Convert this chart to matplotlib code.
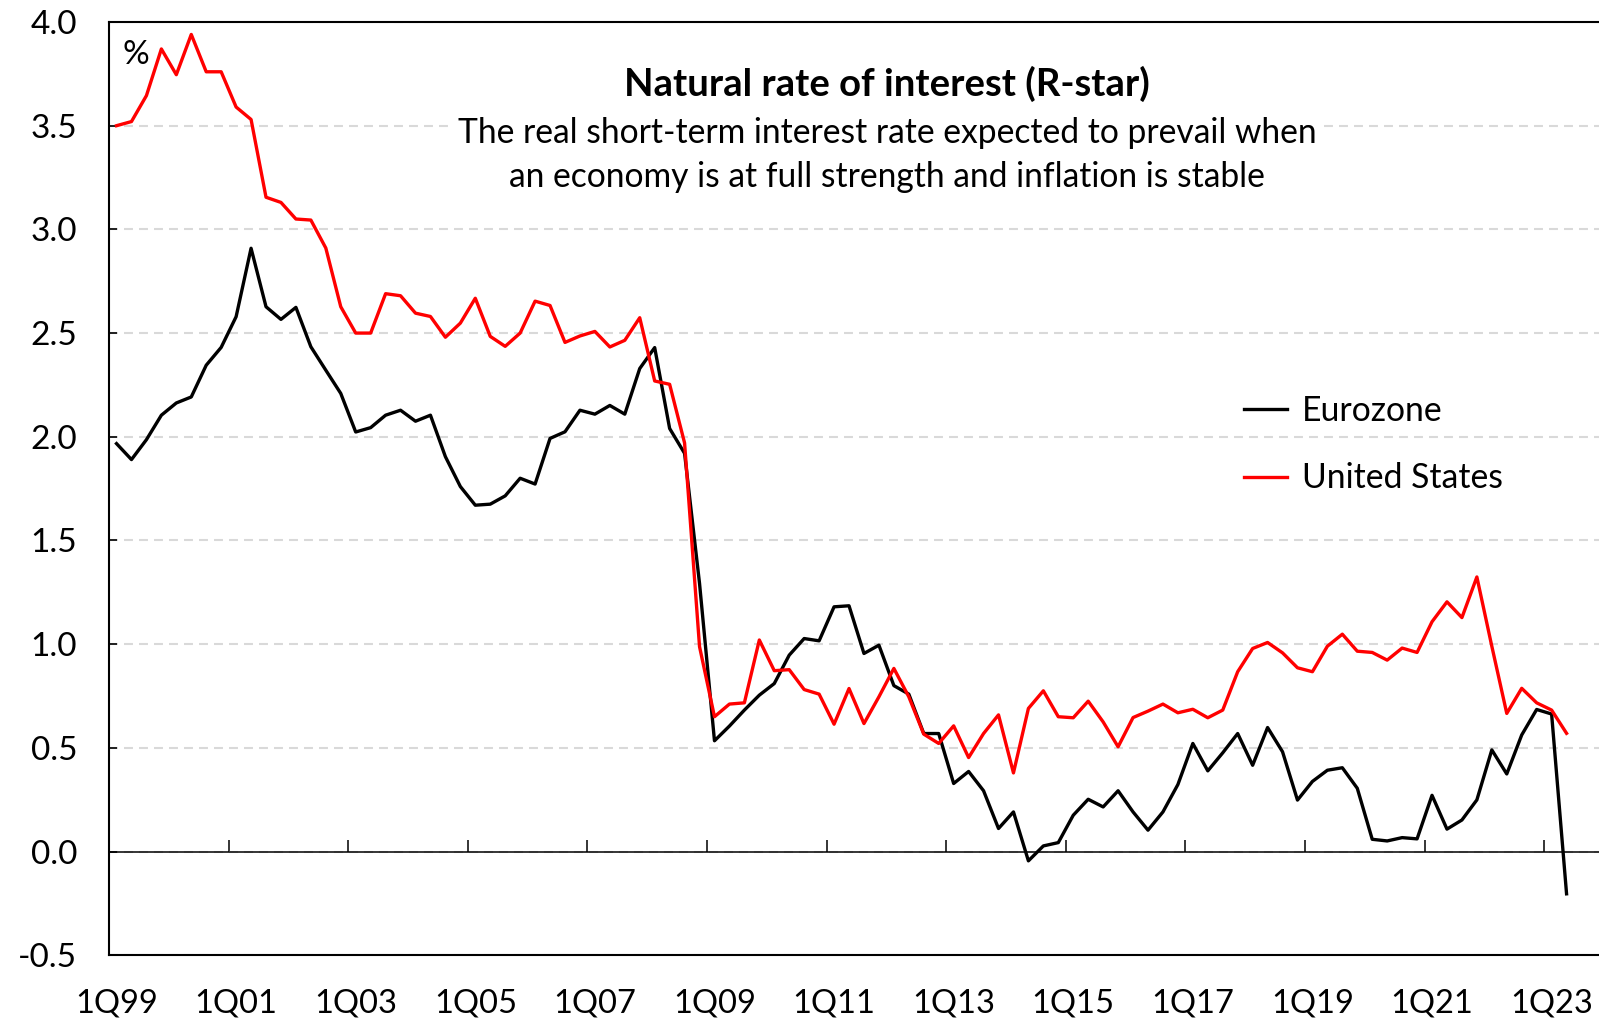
import numpy as np
import matplotlib
matplotlib.use("Agg")
import matplotlib.pyplot as plt
from matplotlib.patches import Rectangle

# quarterly R-star estimates, 1Q99 .. 2Q23
eurozone = [1.967, 1.89, 1.986, 2.104, 2.163, 2.192, 2.345, 2.431, 2.579, 2.909,
            2.627, 2.566, 2.624, 2.434, 2.321, 2.209, 2.023, 2.044, 2.104, 2.128,
            2.075, 2.104, 1.904, 1.76, 1.67, 1.675, 1.715, 1.80, 1.772, 1.992,
            2.024, 2.128, 2.109, 2.151, 2.109, 2.329, 2.43, 2.04, 1.92, 1.293,
            0.534, 0.605, 0.682, 0.754, 0.81, 0.947, 1.027, 1.016, 1.18, 1.185,
            0.955, 0.995, 0.80, 0.759, 0.569, 0.569, 0.328, 0.386, 0.293, 0.111,
            0.191, -0.045, 0.027, 0.043, 0.175, 0.252, 0.215, 0.293, 0.191, 0.103,
            0.191, 0.323, 0.521, 0.389, 0.476, 0.569, 0.416, 0.598, 0.481, 0.248,
            0.338, 0.392, 0.404, 0.305, 0.059, 0.051, 0.067, 0.061, 0.271, 0.108,
            0.152, 0.249, 0.49, 0.374, 0.562, 0.685, 0.663, -0.204]

united_states = [3.50, 3.52, 3.645, 3.87, 3.746, 3.94, 3.76, 3.76, 3.59, 3.53,
                 3.155, 3.13, 3.05, 3.045, 2.91, 2.627, 2.50, 2.50, 2.69, 2.68,
                 2.596, 2.58, 2.48, 2.548, 2.668, 2.484, 2.436, 2.50, 2.654, 2.633,
                 2.455, 2.486, 2.508, 2.433, 2.465, 2.574, 2.269, 2.253, 1.97, 0.988,
                 0.65, 0.711, 0.717, 1.02, 0.872, 0.877, 0.781, 0.759, 0.614, 0.786,
                 0.617, 0.746, 0.883, 0.746, 0.566, 0.521, 0.606, 0.453, 0.569, 0.659,
                 0.379, 0.69, 0.775, 0.65, 0.645, 0.725, 0.625, 0.505, 0.646, 0.677,
                 0.711, 0.669, 0.686, 0.645, 0.682, 0.867, 0.979, 1.008, 0.958, 0.886,
                 0.867, 0.99, 1.048, 0.966, 0.96, 0.923, 0.981, 0.96, 1.108, 1.204,
                 1.128, 1.324, 0.99, 0.666, 0.787, 0.717, 0.682, 0.57]

tick_labels = ['1Q99', '1Q01', '1Q03', '1Q05', '1Q07', '1Q09', '1Q11',
               '1Q13', '1Q15', '1Q17', '1Q19', '1Q21', '1Q23']
y_ticks = [-0.5, 0.0, 0.5, 1.0, 1.5, 2.0, 2.5, 3.0, 3.5, 4.0]

plt.rcParams['font.family'] = ['Lato', 'DejaVu Sans']

fig = plt.figure(figsize=(15.99, 10.19), dpi=100)
ax = fig.add_axes([0.0682, 0.0626, 0.9318, 0.9158])

q = np.arange(len(eurozone))
ax.plot(q, eurozone, color='black', lw=2.4, label='Eurozone', zorder=4)
ax.plot(q, united_states, color='#ff0000', lw=2.4, label='United States', zorder=5)

ax.set_xlim(-0.5, 99.17)
ax.set_ylim(-0.5, 4.0)

# y axis
ax.set_yticks(y_ticks)
ax.set_yticklabels([f"{v:.1f}" for v in y_ticks])
ax.tick_params(axis='y', direction='in', length=5.5, width=1.2, pad=23, labelsize=24)
ax.yaxis.grid(True, color='#d9d9d9', lw=1.5, ls=(0, (4.3, 2.9)), zorder=0)

# x labels sit at the bottom, tick marks live on the zero line
ax.set_xticks(np.arange(0, len(tick_labels) * 8, 8))
ax.set_xticklabels(tick_labels)
ax.tick_params(axis='x', length=0, pad=24, labelsize=23.5)

ax.axhline(0, color='black', lw=1.1, zorder=3)
zero = ax.secondary_xaxis(0.5 / 4.5)
zero.set_xticks(np.arange(7.5, 96, 8))
zero.tick_params(direction='in', length=8.6, width=1.1, labelbottom=False, color='black')
zero.spines['bottom'].set_visible(False)

for side in ['left', 'top', 'bottom']:
    ax.spines[side].set_linewidth(1.5)
    ax.spines[side].set_color('black')
ax.spines['right'].set_visible(False)

ax.text(0.0179, 0.965, '%', transform=ax.transAxes, fontsize=24,
        ha='center', va='center')

# white patch behind legend
ax.add_patch(Rectangle((0.7074, 0.466), 0.28, 0.182, transform=ax.transAxes,
                       facecolor='white', edgecolor='none', zorder=1))
ax.legend(loc='center left', bbox_to_anchor=(0.7527, 0.547), frameon=False,
          fontsize=24.3, handlelength=1.27, handletextpad=0.45,
          labelspacing=1.05, borderaxespad=0)

fig.text(0.5547, 0.918, 'Natural rate of interest (R-star)', fontsize=27.5,
         fontweight='bold', ha='center', va='center')
fig.text(0.5547, 0.848,
         'The real short-term interest rate expected to prevail when\n'
         'an economy is at full strength and inflation is stable',
         fontsize=24.2, ha='center', va='center', linespacing=1.45,
         bbox=dict(facecolor='white', edgecolor='none', pad=4))

fig.savefig('out.png', dpi=100)
